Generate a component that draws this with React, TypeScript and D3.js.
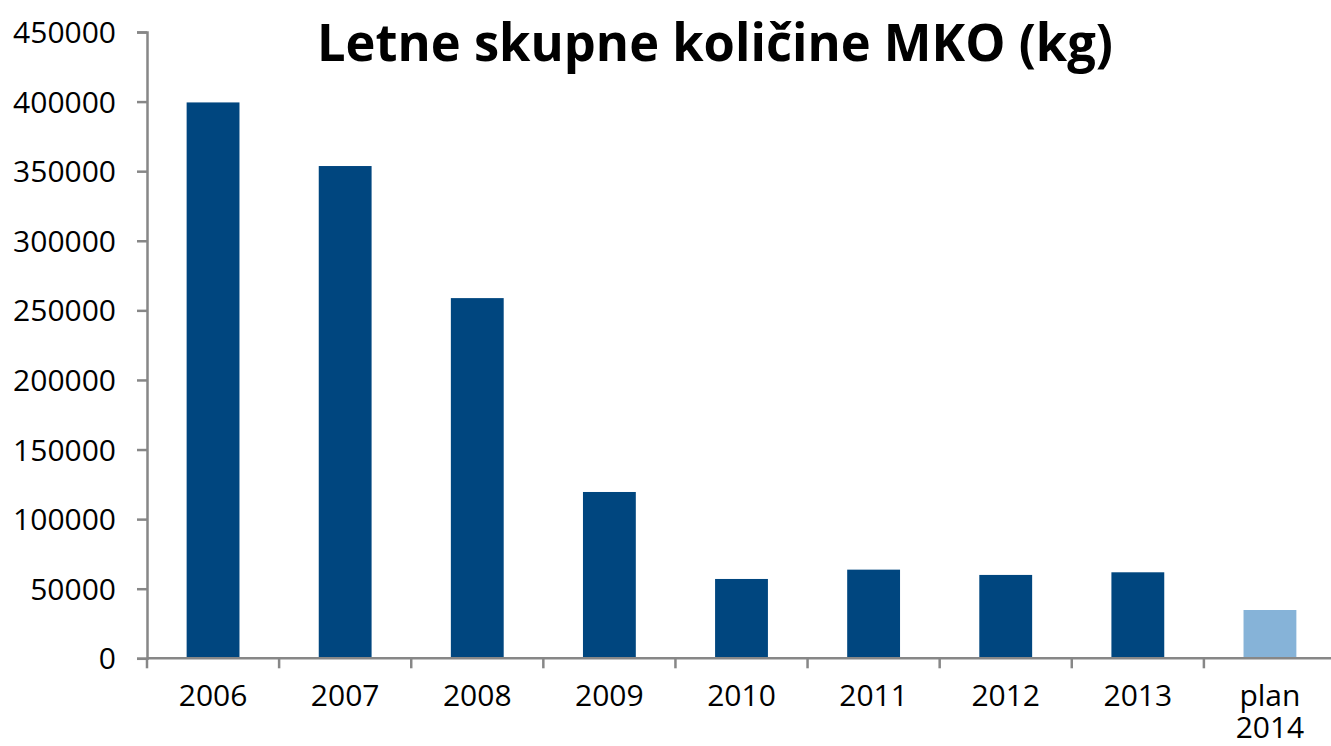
import * as d3 from 'd3';
import React, { useRef, useEffect } from 'react';

const categories: string[] = ['2006', '2007', '2008', '2009', '2010', '2011', '2012', '2013', 'plan 2014'];
const values: number[] = [399400, 353700, 258800, 119500, 57000, 63700, 59900, 61800, 34700];
const isPlan: boolean[] = [false, false, false, false, false, false, false, false, true];
const yTicks: number[] = [0, 50000, 100000, 150000, 200000, 250000, 300000, 350000, 400000, 450000];
const title = 'Letne skupne količine MKO (kg)';

function App(): any {
  const ref = useRef(null);

  const width = 1331;
  const height = 746;
  const margin = { top: 32, left: 147, bottom: 88, right: -5 };

  useEffect(() => {
    const svg = d3.select(ref.current);
    svg.selectAll('*').remove();

    const xScale = d3
      .scaleBand()
      .domain(categories)
      .range([margin.left, width - margin.right])
      .paddingInner(0.6)
      .paddingOuter(0.3);

    const yScale = d3
      .scaleLinear()
      .domain([0, 450000])
      .range([height - margin.bottom + 0.3, margin.top]);

    const font = "'Open Sans', sans-serif";
    const axisColor = '#878787';

    // bars
    svg.append('g')
      .selectAll('rect')
      .data(values)
      .join('rect')
      .attr('x', (_: number, i: number) => xScale(categories[i]) as number)
      .attr('y', (d: number) => yScale(d))
      .attr('width', xScale.bandwidth())
      .attr('height', (d: number) => yScale(0) - yScale(d))
      .attr('fill', (_: number, i: number) => isPlan[i] ? '#86b3d8' : '#00467f');

    // y axis
    const yAxis = svg.append('g')
      .attr('transform', 'translate(' + margin.left + ',0)')
      .call(d3.axisLeft(yScale).tickValues(yTicks).tickSize(10).tickPadding(10).tickFormat((d: any) => String(d)));
    yAxis.select('.domain').attr('stroke', axisColor).attr('stroke-width', 2.5);
    yAxis.selectAll('.tick line').attr('stroke', axisColor).attr('stroke-width', 2.5);
    yAxis.selectAll('.tick text')
      .attr('font-family', font)
      .attr('font-size', 30)
      .attr('fill', '#000')
      .attr('x', -31)
      .attr('dy', '0.35em');

    // x axis, ticks sit between the categories
    const step = xScale.step();
    const y0 = yScale(0);
    const xAxis = svg.append('g');
    xAxis.append('line')
      .attr('x1', margin.left)
      .attr('x2', width)
      .attr('y1', y0)
      .attr('y2', y0)
      .attr('stroke', axisColor)
      .attr('stroke-width', 2.5);
    const boundaries = categories.map((c) => (xScale(c) as number) - step * 0.3);
    xAxis.selectAll('line.tick')
      .data(boundaries)
      .join('line')
      .attr('class', 'tick')
      .attr('x1', (d: number) => d)
      .attr('x2', (d: number) => d)
      .attr('y1', y0)
      .attr('y2', y0 + 10)
      .attr('stroke', axisColor)
      .attr('stroke-width', 2.5);

    // labels, one text per line so "plan 2014" wraps
    const lines: Array<{ c: string; s: string; j: number }> = [];
    categories.forEach((c) => c.split(' ').forEach((s, j) => lines.push({ c, s, j })));
    xAxis.selectAll('text.label')
      .data(lines)
      .join('text')
      .attr('class', 'label')
      .attr('text-anchor', 'middle')
      .attr('font-family', font)
      .attr('font-size', 30)
      .attr('fill', '#000')
      .attr('x', (d: any) => (xScale(d.c) as number) + xScale.bandwidth() / 2)
      .attr('y', (d: any) => d.j === 0 ? y0 + 48 : y0 + 80)
      .text((d: any) => d.s);

    // title
    svg.append('text')
      .attr('x', 715)
      .attr('y', 61)
      .attr('text-anchor', 'middle')
      .attr('font-family', font)
      .attr('font-weight', 'bold')
      .attr('font-size', 52)
      .attr('textLength', 796)
      .attr('lengthAdjust', 'spacingAndGlyphs')
      .attr('fill', '#000')
      .text(title);
  }, []);

  return (
    <svg
      ref={ref}
      width={width}
      height={height}
      style={{ position: 'absolute', left: 0, top: 0, background: '#fff' }}
    />
  );
}

export default App;
